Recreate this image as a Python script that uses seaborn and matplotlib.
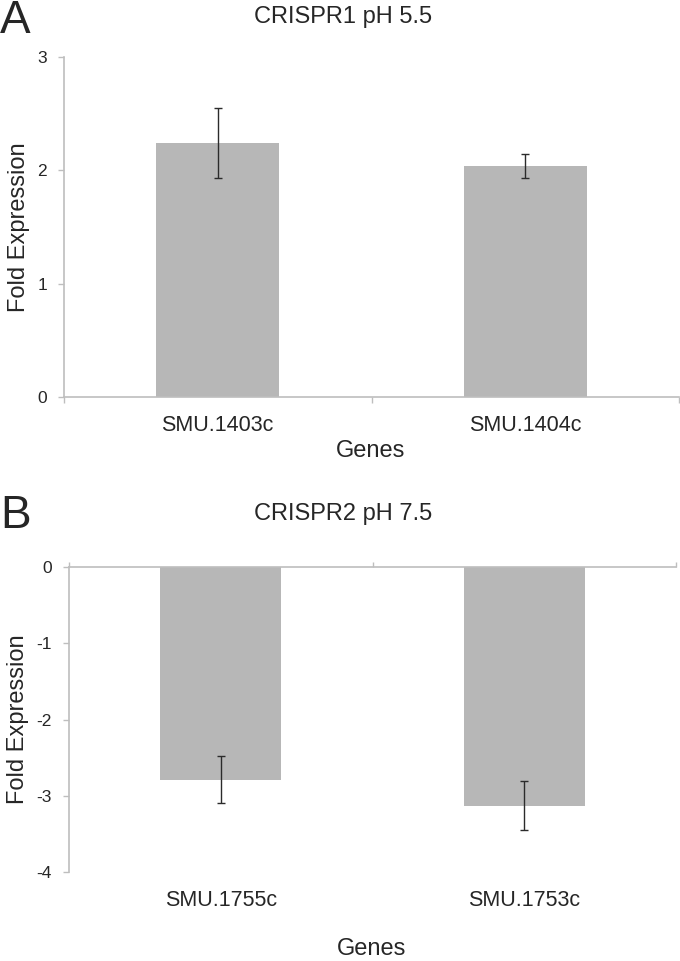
import numpy as np
import pandas as pd
import matplotlib
matplotlib.use("Agg")
import matplotlib.pyplot as plt
import seaborn as sns

# data
genes_a = ["SMU.1403c", "SMU.1404c"]
fold_a = [2.24, 2.035]
err_a = [0.31, 0.105]

genes_b = ["SMU.1755c", "SMU.1753c"]
fold_b = [-2.79, -3.13]
err_b = [0.31, 0.32]

bar_color = "#b7b7b7"
spine_color = "#bebebe"
err_color = "#2b2b2b"

sns.set_style("white")
plt.rcParams["font.family"] = ["Liberation Sans", "DejaVu Sans"]
plt.rcParams["axes.unicode_minus"] = False

fig = plt.figure(figsize=(6.8, 9.61), dpi=100)
W, H = 680, 961


def px_axes(left, right, top, bottom):
    return fig.add_axes([left / W, 1 - bottom / H, (right - left) / W, (bottom - top) / H])


def draw_panel(ax, genes, vals, errs):
    df = pd.DataFrame({"Genes": genes, "Fold": vals})
    sns.barplot(data=df, x="Genes", y="Fold", color=bar_color, saturation=1,
                width=0.4, errorbar=None, ax=ax, linewidth=0)
    ax.errorbar(np.arange(len(vals)), vals, yerr=errs, fmt="none",
                ecolor=err_color, elinewidth=1, capsize=3, capthick=1)
    ax.set_xlim(-0.5, len(vals) - 0.5)
    ax.set_xticks(np.arange(-0.5, len(vals)), minor=True)
    ax.set_xlabel("")
    ax.set_ylabel("")
    for s in ax.spines.values():
        s.set_color(spine_color)
        s.set_linewidth(1.2)
    ax.tick_params(axis="y", which="major", left=True, length=4.3, width=1,
                   color=spine_color, pad=8, labelsize=12.5)
    ax.tick_params(axis="x", which="major", length=0, pad=13, labelsize=15.5)


# ---- Panel A ----
ax1 = px_axes(64, 679, 57, 397)
draw_panel(ax1, genes_a, fold_a, err_a)
ax1.set_ylim(0, 3)
ax1.set_yticks([0, 1, 2, 3])
ax1.spines["top"].set_visible(False)
ax1.spines["right"].set_visible(False)
ax1.tick_params(axis="x", which="minor", bottom=True, length=4.3, width=1,
                color=spine_color)

# ---- Panel B ----
ax2 = px_axes(69, 676, 567, 872)
draw_panel(ax2, genes_b, fold_b, err_b)
ax2.set_ylim(-4, 0)
ax2.set_yticks([0, -1, -2, -3, -4])
ax2.spines["bottom"].set_visible(False)
ax2.spines["right"].set_visible(False)
ax2.tick_params(axis="x", which="minor", bottom=False, top=True, length=3.5,
                width=1, color=spine_color)

# text
fig.text(0.0, 1 - 33 / H, "A", fontsize=33, va="baseline", ha="left")
fig.text(0.0, 1 - 528 / H, "B", fontsize=33, va="baseline", ha="left")
fig.text(343 / W, 1 - 23 / H, "CRISPR1 pH 5.5", fontsize=17, ha="center", va="baseline")
fig.text(343 / W, 1 - 520 / H, "CRISPR2 pH 7.5", fontsize=17, ha="center", va="baseline")
fig.text(371 / W, 1 - 457 / H, "Genes", fontsize=17, ha="center", va="baseline")
fig.text(372 / W, 1 - 955 / H, "Genes", fontsize=17, ha="center", va="baseline")
fig.text(19.5 / W, 1 - 227 / H, "Fold Expression", fontsize=17, rotation=90,
         ha="center", va="center")
fig.text(18.5 / W, 1 - 719 / H, "Fold Expression", fontsize=17, rotation=90,
         ha="center", va="center")

fig.savefig("out.png", dpi=100)
